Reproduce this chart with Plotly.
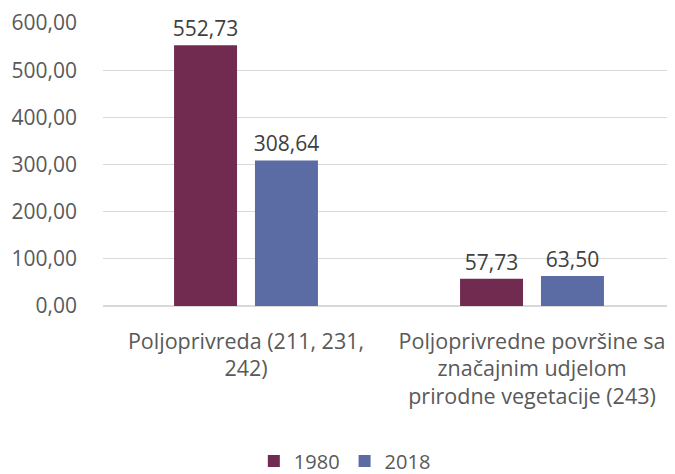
import plotly.graph_objects as go

categories = ["Poljoprivreda (211, 231,<br>242)",
              "Poljoprivredne površine sa<br>značajnim udjelom<br>prirodne vegetacije (243)"]
series_names = ["1980", "2018"]
values_1980 = [552.73, 57.73]
values_2018 = [308.64, 63.50]
colors = ["#722B50", "#5B6BA3"]

fig = go.Figure()
for name, vals, col in zip(series_names, [values_1980, values_2018], colors):
    fig.add_trace(go.Bar(
        x=categories, y=vals, name=name, marker_color=col,
        marker_line_width=0,
        text=vals, texttemplate="%{y:.2f}", textposition="outside",
        constraintext="none",
        textfont=dict(size=21, color="#404040"), cliponaxis=False,
    ))

# page body has an 8px margin, so the figure is sized to fit the 675x474 window
fig.update_layout(
    width=667, height=466,
    margin=dict(l=95, r=0, t=15, b=168, autoexpand=False),
    paper_bgcolor="white", plot_bgcolor="white",
    font=dict(family="Open Sans, Segoe UI, sans-serif", size=21, color="#595959"),
    separators=",.",
    barmode="group", bargap=0.434, bargroupgap=0.222,
    showlegend=True,
    legend=dict(orientation="h", x=0.505, xanchor="center", xref="container",
                y=0.028, yanchor="middle", yref="container",
                font=dict(size=20, color="#595959"), traceorder="normal",
                itemwidth=30, tracegroupgap=0),
)
fig.update_yaxes(range=[0, 600], dtick=100, tickformat=".2f",
                 showgrid=True, gridcolor="#D9D9D9", gridwidth=1,
                 zeroline=True, zerolinecolor="#D9D9D9", showline=False,
                 ticks="", ticklabelstandoff=25, automargin=False,
                 tickfont=dict(size=21, color="#595959"))
fig.update_xaxes(showline=False, ticks="", ticklabelstandoff=20, automargin=False,
                 tickfont=dict(size=21.5, color="#595959"))

fig.write_html("out.html")
